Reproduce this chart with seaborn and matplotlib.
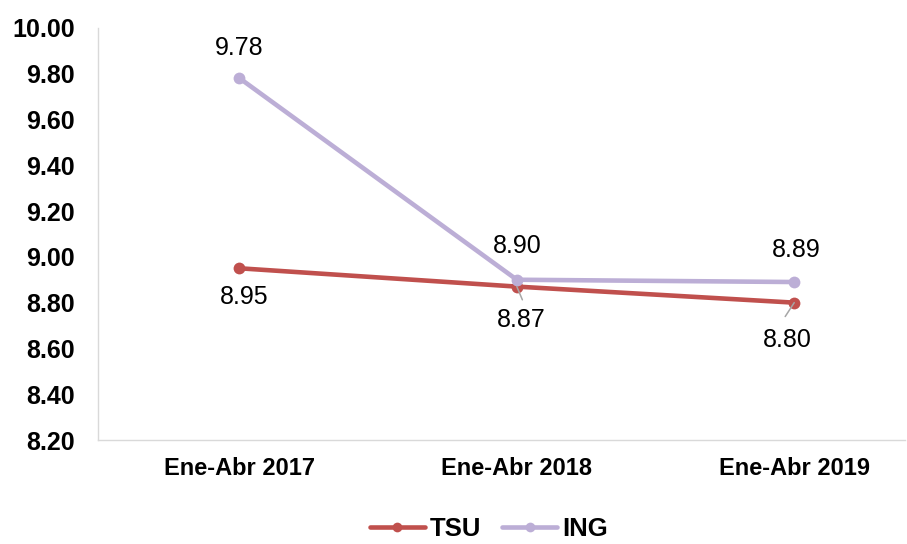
import pandas as pd
import seaborn as sns
import matplotlib.pyplot as plt

periods = ["Ene-Abr 2017", "Ene-Abr 2018", "Ene-Abr 2019"]
tsu = [8.95, 8.87, 8.80]
ing = [9.78, 8.90, 8.89]
yticks = [8.20, 8.40, 8.60, 8.80, 9.00, 9.20, 9.40, 9.60, 9.80, 10.00]

df = pd.DataFrame({
    "periodo": periods * 2,
    "x": [0, 1, 2] * 2,
    "valor": tsu + ing,
    "serie": ["TSU"] * 3 + ["ING"] * 3,
})

sns.set_style("white")
plt.rcParams["font.family"] = ["Liberation Sans", "DejaVu Sans"]
plt.rcParams["text.color"] = "black"
plt.rcParams["xtick.color"] = "black"
plt.rcParams["ytick.color"] = "black"

fig = plt.figure(figsize=(9.07, 5.44), dpi=100)
ax = fig.add_axes([0.108, 0.191, 0.89, 0.758])

colors = {"TSU": "#C0504D", "ING": "#BCAED6"}
sns.lineplot(data=df, x="x", y="valor", hue="serie", palette=colors,
             hue_order=["TSU", "ING"], marker="o", markersize=8.5,
             markeredgewidth=0, linewidth=3.3, ax=ax)

# data labels ING (above)
ing_offsets = [(0, 22), (0, 24.5), (1.5, 23)]
for i, v in enumerate(ing):
    ax.annotate(f"{v:.2f}", (i, v), xytext=ing_offsets[i], textcoords="offset points",
                ha="center", va="center", fontsize=18)

# data labels TSU (below), with leader lines for the last two
tsu_offsets = [(3.6, -21), (3, -24), (-5, -27)]
leaders = [None, (4, -9.5), (-6.5, -10)]
for i, v in enumerate(tsu):
    ax.annotate(f"{v:.2f}", (i, v), xytext=tsu_offsets[i], textcoords="offset points",
                ha="center", va="center", fontsize=18)
    if leaders[i] is not None:
        ax.annotate("", (i, v), xytext=leaders[i], textcoords="offset points",
                    arrowprops=dict(arrowstyle="-", color="#a6a6a6", lw=1.1,
                                    shrinkA=0, shrinkB=0))

ax.set_xlim(-0.51, 2.40)
ax.set_ylim(8.20, 10.00)
ax.set_yticks(yticks)
ax.set_yticklabels([f"{t:.2f}" for t in yticks], fontsize=18, fontweight="bold")
ax.set_xticks([0, 1, 2])
ax.set_xticklabels(periods, fontsize=17, fontweight="bold")
ax.tick_params(axis="y", length=0, pad=16.5)
ax.tick_params(axis="x", length=0, pad=12)
ax.set_xlabel("")
ax.set_ylabel("")

for s in ["top", "right"]:
    ax.spines[s].set_visible(False)
for s in ["left", "bottom"]:
    ax.spines[s].set_color("#d9d9d9")
    ax.spines[s].set_linewidth(1)

handles, labels = ax.get_legend_handles_labels()
ax.legend_.remove()
for h in handles:
    h.set_markersize(7)
fig.legend(handles, labels, loc="center", bbox_to_anchor=(0.539, 0.028),
           ncol=2, frameon=False, handlelength=2.15, columnspacing=0.8,
           handletextpad=0.2, prop={"weight": "bold", "size": 18.5})

fig.savefig("out.png", dpi=100)
